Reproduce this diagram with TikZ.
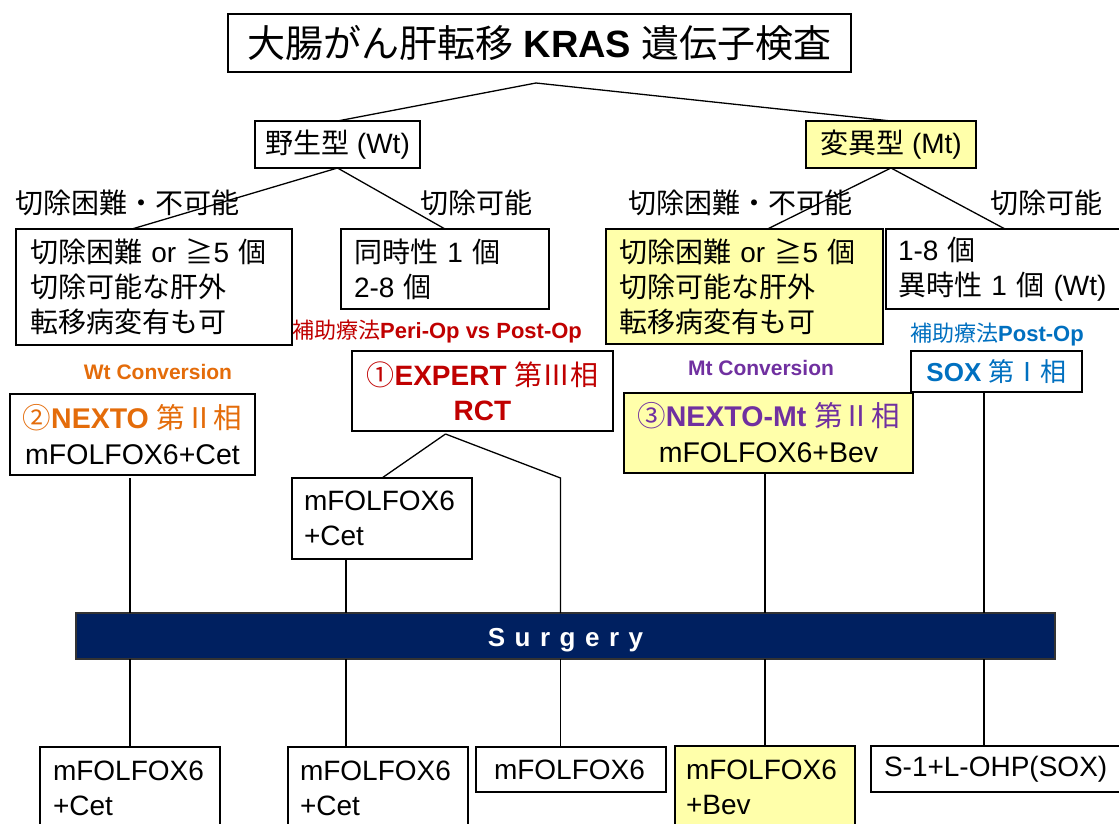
\documentclass[tikz,border=0pt]{standalone}
\usepackage{fontspec}
\setmainfont{Liberation Sans}
\newfontfamily\jp{Noto Sans CJK JP}
\definecolor{hl}{HTML}{FFFFAA}
\definecolor{navy}{HTML}{002060}
\definecolor{redc}{HTML}{C00000}
\definecolor{orangec}{HTML}{E46C0A}
\definecolor{purplec}{HTML}{7030A0}
\definecolor{bluec}{HTML}{0070C0}
\newcommand\lsp{\hspace{9.5pt}}
\tikzset{
  box/.style={draw, line width=1.3pt, inner ysep=0pt, outer sep=0pt},
  lbox/.style={box, anchor=north west, align=left},
  cbox/.style={box, align=center, inner sep=0pt},
  txt/.style={font=\fontsize{28}{35}\selectfont},
  lbl/.style={inner sep=0pt, font=\fontsize{28}{35}\selectfont},
  small/.style={inner sep=0pt, font=\fontsize{22}{26}\selectfont},
  conn/.style={line width=1.3pt},
}
\begin{document}
\begin{tikzpicture}[x=1pt,y=-1pt]
\useasboundingbox (0,0) rectangle (1119,824);
\clip (0,0) rectangle (1119,824);
\fill[white] (0,0) rectangle (1119,824);

% title and first level
\node[cbox, minimum width=623pt, minimum height=58pt, font=\fontsize{38}{42}\selectfont] (title) at (539.5,43) {{\jp 大腸がん肝転移} \textbf{KRAS} {\jp 遺伝子検査}};
\node[cbox, txt, minimum width=165pt, minimum height=47pt] (wt) at (337.5,144.5) {{\jp 野生型} (Wt)};
\node[cbox, txt, fill=hl, minimum width=170pt, minimum height=47pt] (mt) at (891,144.5) {{\jp 変異型} (Mt)};

% branch labels
\node[lbl, anchor=west] (wlab1) at (15,203) {\jp 切除困難・不可能};
\node[lbl, anchor=west] (wlab2) at (420,203) {\jp 切除可能};
\node[lbl, anchor=west] (mlab1) at (628,203) {\jp 切除困難・不可能};
\node[lbl, anchor=west] (mlab2) at (990,203) {\jp 切除可能};

% condition boxes
\node[lbox, txt, inner xsep=14pt, text width=248pt, minimum height=116pt] (wtl) at (16,229)
  {{\jp 切除困難} or {\jp ≧}5 {\jp 個}\\{\jp 切除可能な肝外}\\{\jp 転移病変有も可}};
\node[lbox, txt, inner xsep=13pt, text width=182pt, minimum height=80pt] (wtr) at (341,229)
  {{\jp 同時性} 1 {\jp 個}\\2-8 {\jp 個}};
\node[lbox, txt, fill=hl, inner xsep=13pt, text width=251pt, minimum height=115pt] (mtl) at (606,229)
  {{\jp 切除困難} or {\jp ≧}5 {\jp 個}\\{\jp 切除可能な肝外}\\{\jp 転移病変有も可}};
\node[lbox, txt, inner xsep=12pt, text width=226pt, minimum height=80pt] (mtr) at (886,229)
  {1-8 {\jp 個}\\{\jp 異時性} 1 {\jp 個} (Wt)};

% study labels
\node[small, anchor=west, text=redc] (rlab) at (292,332) {{\jp 補助療法}\textbf{Peri-Op vs Post-Op}};
\node[small, anchor=west, text=bluec] (blab) at (910,335) {{\jp 補助療法}\textbf{Post-Op}};
\node[inner sep=0pt, font=\fontsize{21}{24}\selectfont\bfseries, text=orangec] (wconv) at (158,372) {Wt Conversion};
\node[inner sep=0pt, font=\fontsize{21}{24}\selectfont\bfseries, text=purplec] (mconv) at (761,368) {Mt Conversion};

% study boxes
\node[cbox, txt, text=redc, minimum width=261pt, minimum height=80pt, font=\fontsize{28}{35}\selectfont] (ex) at (482.5,391)
  {{\jp ①}\textbf{EXPERT} {\jp 第Ⅲ相}\\\textbf{RCT}};
\node[cbox, txt, minimum width=245pt, minimum height=81pt, font=\fontsize{28.5}{36}\selectfont] (nx) at (132.5,434.5)
  {\textcolor{orangec}{{\jp ②}\textbf{NEXTO} {\jp 第Ⅱ相}}\\mFOLFOX6+Cet};
\node[cbox, txt, fill=hl, minimum width=289pt, minimum height=80pt, font=\fontsize{28.5}{36}\selectfont] (nxm) at (768.5,433)
  {\textcolor{purplec}{{\jp ③}\textbf{NEXTO-Mt} {\jp 第Ⅱ相}}\\mFOLFOX6+Bev};
\node[cbox, text=bluec, minimum width=171pt, minimum height=41pt, font=\fontsize{26}{30}\selectfont] (sox) at (996.5,371.5)
  {\textbf{SOX} {\jp 第Ⅰ相}};
\node[lbox, txt, inner xsep=12pt, text width=156pt, minimum height=81pt] (fc) at (292,478)
  {mFOLFOX6\\+Cet};

% surgery bar
\node[box, fill=navy, draw=black!80, text=white, minimum width=979pt, minimum height=46pt, inner sep=0pt,
  font=\fontsize{26}{28}\selectfont\bfseries] (surg) at (565.5,636)
  {\raisebox{-4pt}[\height][\depth]{S\lsp u\lsp r\lsp g\lsp e\lsp r\lsp y}};

% bottom boxes
\node[lbox, txt, inner xsep=13pt, text width=154pt, minimum height=82pt] (b1) at (40,747) {mFOLFOX6\\+Cet};
\node[lbox, txt, inner xsep=12pt, text width=156pt, minimum height=82pt] (b2) at (288,747) {mFOLFOX6\\+Cet};
\node[lbox, txt, inner xsep=18pt, text width=154pt, minimum height=45pt] (b3) at (476,747) {mFOLFOX6};
\node[lbox, txt, fill=hl, inner xsep=11pt, text width=158pt, minimum height=82pt] (b4) at (675,746) {mFOLFOX6\\+Bev};
\node[lbox, txt, inner xsep=13pt, text width=234pt, minimum height=46pt] (b5) at (871,746) {S-1+L-OHP(SOX)};

% connectors
\coordinate (apex) at ([xshift=-3.5pt,yshift=-11pt]title.south);
\draw[conn] (apex) -- (wt.north);
\draw[conn] (apex) -- (mt.north);
\draw[conn] (wt.south) -- ([xshift=-22pt]wtl.north);
\draw[conn] (wt.south) -- (wtr.north);
\draw[conn] (mt.south) -- ([xshift=23pt]mtl.north);
\draw[conn] (mt.south) -- ([xshift=-6pt]mtr.north);

\coordinate (exa) at ([xshift=-37pt,yshift=-3pt]ex.south);
\coordinate (exr) at (560.5,478);
\draw[conn] (exa) -- (fc.north);
\draw[conn] (exa) -- (exr) -- (exr |- surg.north);
\draw[conn] (surg.south -| exr) -- (b3.north -| exr);

\draw[conn] ([yshift=-3pt]b1.north |- nx.south) -- (b1.north |- surg.north);
\draw[conn] (b1.north |- surg.south) -- (b1.north);

\coordinate (fcx) at (346,0);
\draw[conn] (fc.south -| fcx) -- (surg.north -| fcx);
\draw[conn] (surg.south -| fcx) -- (b2.north -| fcx);

\draw[conn] (b4.north |- nxm.south) -- (b4.north |- surg.north);
\draw[conn] (b4.north |- surg.south) -- (b4.north);

\coordinate (soxx) at (984,0);
\draw[conn] (sox.south -| soxx) -- (surg.north -| soxx);
\draw[conn] (surg.south -| soxx) -- (b5.north -| soxx);
\end{tikzpicture}
\end{document}
